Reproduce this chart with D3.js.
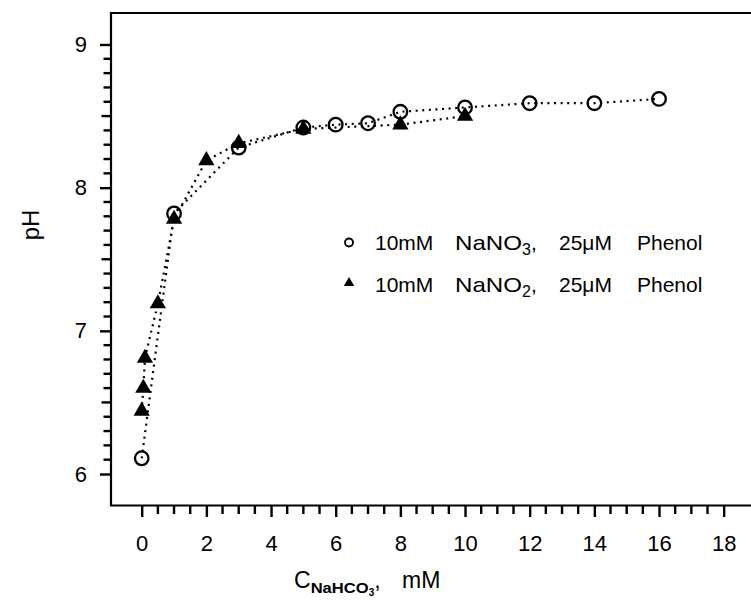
<!DOCTYPE html>
<html>
<head>
<meta charset="utf-8">
<script src="https://cdn.jsdelivr.net/npm/d3@7"></script>
<style>
	body {margin:0; background:#fff;}
	svg {display:block; font-family:"Liberation Sans", Arial, sans-serif;}
</style>
</head>
<body>
<svg id="chart" width="751" height="616"></svg>
<script>

// NaNO3 series (open circles)
const nitrateX = [0, 1, 3, 5, 6, 7, 8, 10, 12, 14, 16];
const nitratePH = [6.11, 7.82, 8.28, 8.42, 8.44, 8.45, 8.53, 8.56, 8.59, 8.59, 8.62];

// NaNO2 series (filled triangles)
const nitriteX = [0, 0.05, 0.1, 0.5, 1, 2, 3, 5, 8, 10];
const nitritePH = [6.44, 6.60, 6.81, 7.19, 7.78, 8.19, 8.31, 8.41, 8.44, 8.50];

const xTicks = [0, 2, 4, 6, 8, 10, 12, 14, 16, 18];
const yTicks = [6, 7, 8, 9];
const legendNames = ["10mM NaNO|3|, 25\u03bcM Phenol", "10mM NaNO|2|, 25\u03bcM Phenol"];

const svg = d3.select("#chart");

const X = d3.scaleLinear().domain([-0.95, 19]).range([111, 756]);
const Y = d3.scaleLinear().domain([5.78, 9.22]).range([505.5, 13]);
const line = d3.line().x(d=>X(d.x)).y(d=>Y(d.y));

const nitrate = nitrateX.map((x,i)=>({x:x, y:nitratePH[i]}));
const nitrite = nitriteX.map((x,i)=>({x:x, y:nitritePH[i]}));

// minor ticks: every 0.5 on x, every 0.1 on y
const xMinor = d3.range(0, 37).map(i=>i/2).filter(v=>v%2!==0);
const yMinor = d3.range(60, 91).filter(i=>i%10!==0);

svg.append("g").attr("transform","translate(0,506)")
	.call(d3.axisBottom(X).tickValues(xTicks).tickSize(11).tickPadding(18).tickFormat(d3.format("d")));
svg.append("g").attr("transform","translate(111,0)")
	.call(d3.axisLeft(Y).tickValues(yTicks).tickSize(11).tickPadding(13).tickFormat(d3.format("d")));

svg.selectAll(".domain").remove();
svg.selectAll(".tick line").attr("stroke","#000").attr("stroke-width",2.4);
svg.selectAll(".tick text").attr("font-size",22).attr("fill","#000")
	.attr("font-family","Liberation Sans, Arial, sans-serif");

// frame (right side runs off the page)
svg.append("path")
	.attr("d", `M${X(19)},${Y(9.22)}H${X(-0.95)}V${Y(5.78)}H${X(19)}`)
	.attr("fill","none").attr("stroke","#000").attr("stroke-width",2.2);

// dotted connecting lines
svg.selectAll(".series").data([nitrate, nitrite]).enter().append("path")
	.attr("class","series")
	.attr("d", line)
	.attr("fill","none").attr("stroke","#000").attr("stroke-width",2.2)
	.attr("stroke-dasharray","2,4.6");

const tri = d3.symbol().type(d3.symbolTriangle);

svg.selectAll(".tri").data(nitrite).enter().append("path")
	.attr("class","tri")
	.attr("transform", d=>`translate(${X(d.x)},${Y(d.y)})`)
	.attr("d", tri.size(115)())
	.attr("fill","#000");

svg.selectAll(".circ").data(nitrate).enter().append("circle")
	.attr("class","circ")
	.attr("cx", d=>X(d.x)).attr("cy", d=>Y(d.y)).attr("r", 6.8)
	.attr("fill","none").attr("stroke","#000").attr("stroke-width",2.3);

// legend
const legend = svg.append("g");
legend.append("circle").attr("cx",349).attr("cy",242.5).attr("r",4)
	.attr("fill","none").attr("stroke","#000").attr("stroke-width",1.9);
legend.append("path").attr("transform","translate(349,283)")
	.attr("d", tri.size(48)()).attr("fill","#000");

legendNames.forEach((name,i)=>{
	const parts = name.split("|");
	const words = parts[0].split(" ");
	const tail = parts[2].replace(",","").trim().split(" ");
	const t = legend.append("text").attr("y", 250 + i*42).attr("font-size",21).attr("fill","#000");
	t.append("tspan").attr("x",375).text(words[0]);
	t.append("tspan").attr("x",455).attr("textLength",67).attr("lengthAdjust","spacingAndGlyphs").text(words[1]);
	t.append("tspan").attr("dy",5).attr("font-size",16).text(parts[1]);
	t.append("tspan").attr("dy",-5).text(",");
	t.append("tspan").attr("x",559).text(tail[0]);
	t.append("tspan").attr("x",637).text(tail[1]);
});

// axis titles
svg.append("text")
	.attr("transform","translate(39,225) rotate(-90)")
	.attr("text-anchor","middle").attr("font-size",24).attr("fill","#000")
	.text("pH");

const xt = svg.append("text").attr("x",294).attr("y",588).attr("font-size",23).attr("fill","#000");
xt.append("tspan").text("C");
xt.append("tspan").attr("dy",5).attr("font-size",15).attr("font-weight","bold")
	.attr("textLength",58).attr("lengthAdjust","spacingAndGlyphs").text("NaHCO");
xt.append("tspan").attr("dy",3).attr("font-size",10).attr("font-weight","bold").text("3");
xt.append("tspan").attr("dy",-8).text(",");
xt.append("tspan").attr("x",402).text("mM");

// minor ticks drawn last as plain lines
const comb = svg.append("g").attr("stroke","#000").attr("stroke-width",2.4);
comb.selectAll(".mx").data(xMinor).enter().append("line")
	.attr("class","mx")
	.attr("x1", d=>X(d)).attr("x2", d=>X(d))
	.attr("y1", 506).attr("y2", 514);
comb.selectAll(".my").data(yMinor).enter().append("line")
	.attr("class","my")
	.attr("y1", d=>Y(d/10)).attr("y2", d=>Y(d/10))
	.attr("x1", d=>d%10===5 ? 101.5 : 103.5).attr("x2", 111);

</script>
</body>
</html>
